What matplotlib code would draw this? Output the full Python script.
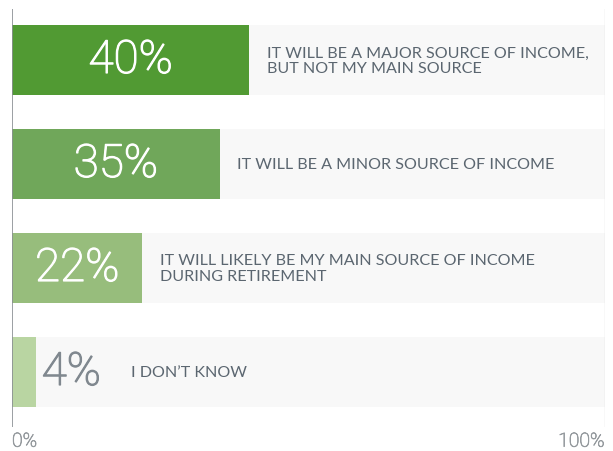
import matplotlib.pyplot as plt
import matplotlib.patheffects as pe
import numpy as np

values = [40, 35, 22, 4]
labels = ['IT WILL BE A MAJOR SOURCE OF INCOME,\nBUT NOT MY MAIN SOURCE',
          'IT WILL BE A MINOR SOURCE OF INCOME',
          'IT WILL LIKELY BE MY MAIN SOURCE OF INCOME\nDURING RETIREMENT',
          'I DON\u2019T KNOW']
colors = ['#519a33', '#70a75a', '#97bd7c', '#b9d5a2']
tick_labels = ['0%', '100%']

plt.rcParams['font.family'] = ['Lato', 'DejaVu Sans']
big_font = ['Roboto', 'DejaVu Sans']


def thicken(color, lw=0.9):
    # light font is a bit too thin, fatten the strokes a little
    return [pe.withStroke(linewidth=lw, foreground=color)]


fig = plt.figure(figsize=(6.13, 4.52), dpi=100)
ax = fig.add_axes([12/613, 24/452, 593/613, 418/452])

y = np.arange(len(values))
bar_h = 0.673
ax.barh(y, [100] * len(values), height=bar_h, color='#f8f8f8', zorder=1)
ax.barh(y, values, height=bar_h, color=colors, zorder=2)

for i, (v, lab) in enumerate(zip(values, labels)):
    if v >= 10:
        ax.text(v / 2, i, f'{v}%', ha='center', va='center', color='white',
                fontsize=33, family=big_font, fontweight='light', zorder=3,
                path_effects=thicken('white'))
        ax.text(v + 3, i, lab, ha='left', va='center', color='#5b6670',
                fontsize=11.6, linespacing=1.1, zorder=3)
    else:
        ax.text(v + 1, i, f'{v}%', ha='left', va='center', color='#80888f',
                fontsize=33, family=big_font, fontweight='light', zorder=3,
                path_effects=thicken('#80888f'))
        ax.text(v + 16, i, lab, ha='left', va='center', color='#5b6670',
                fontsize=11.6, zorder=3)

ax.set_xlim(0, 100)
ax.set_ylim(3.529, -0.49)
ax.axvline(0, color='#8a8f94', lw=1.2, zorder=4)
ax.axvline(100, color='#dcdcdc', lw=1, zorder=4)
for s in ax.spines.values():
    s.set_visible(False)
ax.set_xticks([])
ax.set_yticks([])

ax.text(0, 3.67, tick_labels[0], ha='left', va='center', color='#959a9e',
        fontsize=14, family=big_font, fontweight='light', clip_on=False,
        path_effects=thicken('#959a9e', 0.5))
ax.text(100, 3.67, tick_labels[1], ha='right', va='center', color='#959a9e',
        fontsize=14, family=big_font, fontweight='light', clip_on=False,
        path_effects=thicken('#959a9e', 0.5))

fig.savefig('out.png', dpi=100)
